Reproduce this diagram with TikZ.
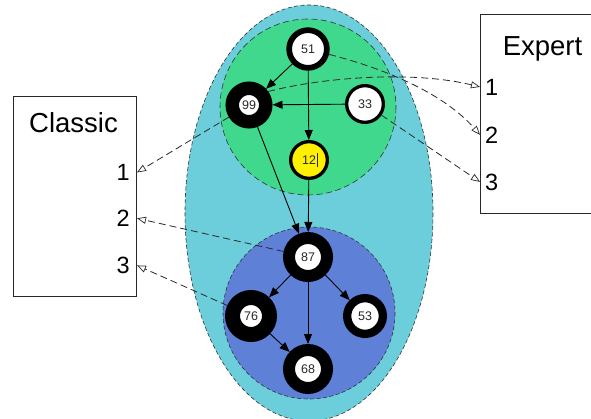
\documentclass[tikz,border=0pt]{standalone}
\usepackage{fontspec}
\setmainfont{Liberation Sans}
\usetikzlibrary{arrows.meta}
\definecolor{outerc}{RGB}{108,206,219}
\definecolor{greenc}{RGB}{64,216,140}
\definecolor{bluec}{RGB}{94,128,214}
\definecolor{yellowc}{RGB}{255,240,0}
\definecolor{numc}{RGB}{40,40,40}
\definecolor{linec}{RGB}{40,40,40}
\begin{document}
\begin{tikzpicture}[x=1pt,y=-1pt,
  ring/.style args={#1/#2}{circle, draw=black, fill=white, line width=#2, minimum size=#1, inner sep=0pt,
    font=\fontsize{12.5}{13}\selectfont, text=numc},
  sol/.style={line width=0.9pt, draw=black, -{Triangle[length=10pt,width=8pt]}},
  dsh/.style={line width=0.8pt, draw=linec, dash pattern=on 7pt off 4pt, -{Triangle[open,length=9pt,width=7pt,line width=0.7pt]}},
  box/.style={draw=linec, line width=0.8pt, fill=white, inner sep=0pt},
  title/.style={font=\fontsize{27.5}{30}\selectfont, text=black, inner sep=0pt},
  digit/.style={font=\fontsize{23.5}{26}\selectfont, text=black, inner ysep=0pt},
  setline/.style={line width=0.6pt, draw=black!80, dash pattern=on 4pt off 2.5pt}
]
\clip (0,0) rectangle (591,418);
\fill[white] (0,0) rectangle (591,418);

% sets
\draw[setline, fill=outerc] (309,213) ellipse [x radius=124, y radius=208];
\draw[setline, fill=greenc, dash pattern=on 6pt off 3.5pt] (308,107) circle [radius=88];
\draw[setline, fill=bluec] (309,313) circle [radius=86];

% boxes
\node[box, minimum width=123pt, minimum height=200pt] (classic) at (74.5,196) {};
\node[box, minimum width=120pt, minimum height=199pt] (expert) at (540,113.5) {};
\node[title, anchor=base] (classicT) at (73.5,132) {Classic};
\node[title, anchor=base] (expertT) at (542.5,55) {Expert};

\node[digit, anchor=base east, inner xsep=7pt] (c1) at (137,180.5) {1};
\node[digit, anchor=base east, inner xsep=7pt] (c2) at (137,226.5) {2};
\node[digit, anchor=base east, inner xsep=7pt] (c3) at (137,273.5) {3};
\node[digit, anchor=base west, inner xsep=5pt] (e1) at (480,95) {1};
\node[digit, anchor=base west, inner xsep=5pt] (e2) at (480,143) {2};
\node[digit, anchor=base west, inner xsep=5pt] (e3) at (480,190) {3};

% graph nodes
\node[ring=37.7pt/5.7pt] (n51) at (308,49) {51};
\node[ring=33.5pt/13.5pt] (n99) at (249,105) {99};
\node[ring=36.7pt/3.3pt] (n33) at (365,104) {33};
\node[ring=36.7pt/3.3pt, fill=yellowc] (n12) at (309,160) {12\rlap{\kern0.6pt\rule[-3pt]{0.7pt}{14pt}}};
\node[ring=38pt/12pt] (n87) at (308,257) {87};
\node[ring=37pt/15pt] (n76) at (251,316) {76};
\node[ring=35.7pt/8.3pt] (n53) at (365,316) {53};
\node[ring=38pt/12pt] (n68) at (308,369) {68};

% solid edges
\draw[sol] (n51) -- (n99);
\draw[sol] (n51) -- (n12);
\draw[sol] (n33) -- (n99);
\draw[sol] (n12) -- (n87);
\draw[sol] (n99) -- (n87);
\draw[sol] (n87) -- (n76);
\draw[sol] (n87) -- (n53);
\draw[sol] (n87) -- (n68);
\draw[sol] (n76) -- (n68);

% dashed mappings
\draw[dsh] (n99) -- (c1.east);
\draw[dsh] (n87) -- (c2.east);
\draw[dsh] (n76) -- (c3.east);
\draw[dsh] (n99.35) .. controls (320,78) and (410,70) .. (e1.west);
\draw[dsh] (n51) .. controls (390,70) and (445,95) .. (e2.west);
\draw[dsh] (n33) -- (e3.west);
\end{tikzpicture}
\end{document}
